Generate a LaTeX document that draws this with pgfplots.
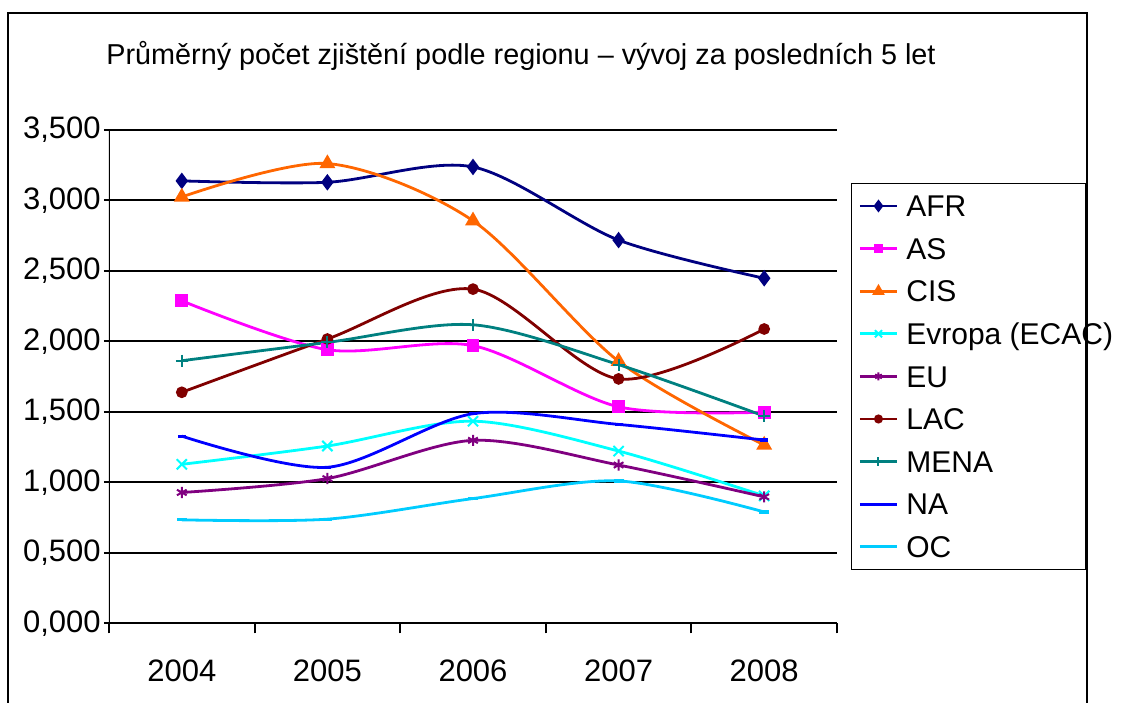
\documentclass[border=0pt]{standalone}
\usepackage{pgfplots}
\pgfplotsset{compat=1.18}
\usepackage{fontspec}
\setmainfont{Liberation Sans}

\definecolor{cAFR}{RGB}{0,0,128}
\definecolor{cAS}{RGB}{255,0,255}
\definecolor{cCIS}{RGB}{255,102,0}
\definecolor{cEVR}{RGB}{0,255,255}
\definecolor{cEU}{RGB}{128,0,128}
\definecolor{cLAC}{RGB}{128,0,0}
\definecolor{cMENA}{RGB}{0,128,128}
\definecolor{cNA}{RGB}{0,0,255}
\definecolor{cOC}{RGB}{0,204,255}

\newcommand{\lent}[1]{\makebox[86pt][l]{#1}}

\begin{document}
\begin{tikzpicture}
\useasboundingbox (0pt,0pt) rectangle (562pt,351pt);
% outer chart frame
\draw[line width=1pt] (4pt,-5pt) -- (4pt,344.5pt) -- (543.5pt,344.5pt) -- (543.5pt,-5pt);
\node[anchor=base, inner sep=0pt, font=\fontsize{14.4}{16}\selectfont] at (260.5pt,318.5pt)
  {Průměrný počet zjištění podle regionu – vývoj za posledních 5 let};

\begin{axis}[
  at={(54.5pt,39.35pt)}, anchor=south west,
  scale only axis, width=364pt, height=246.65pt,
  xmin=0.5, xmax=5.5, ymin=0, ymax=3.5,
  axis line style={draw=none},
  xtick pos=bottom, ytick pos=left,
  xtick={0.5,1.5,...,5.5},
  xticklabels={2004,2005,2006,2007,2008},
  x tick label as interval,
  ytick={0,0.5,...,3.5},
  ymajorgrids,
  grid style={black, line width=1pt},
  tick align=outside,
  major tick length=5pt,
  tick style={black, line width=1pt},
  ytick style={/pgfplots/major tick length=2.5pt},
  yticklabel style={font=\fontsize{15.5}{17}\selectfont, inner sep=0pt, xshift=1pt,
    /pgf/number format/.cd, fixed, fixed zerofill, precision=3, use comma, assume math mode=true},
  xticklabel style={font=\fontsize{15.5}{17}\selectfont, inner sep=0pt, anchor=north, yshift=-13pt},
  every axis plot/.append style={line width=1.4pt, smooth},
  legend image code/.code={\draw[mark repeat=2, mark phase=2, every mark/.append style={scale=0.7}]
    plot coordinates {(0pt,0pt) (9.25pt,0pt) (18.5pt,0pt)};},
  legend style={at={(axis description cs:1.0192,0.8926)}, anchor=north west,
    draw=black, line width=0.6pt, fill=white,
    inner xsep=3.5pt, inner ysep=5.8pt, row sep=10.5pt, column sep=4pt,
    font=\fontsize{15}{17}\selectfont,
    nodes={inner sep=0pt, text height=10.8pt, text depth=0pt},
    cells={anchor=west}},
]
% left and bottom axis lines
\draw[black, line width=1pt] (rel axis cs:0,1) -- (rel axis cs:0,0) -- (rel axis cs:1,0);
\addplot[cAFR, mark=diamond*, mark size=3pt, mark options={solid, fill=cAFR}]
  coordinates {(1,3.139) (2,3.129) (3,3.238) (4,2.719) (5,2.448)};
\addlegendentry{\lent{AFR}}
\addplot[cAS, mark=square*, mark size=2.5pt, mark options={solid, fill=cAS}]
  coordinates {(1,2.288) (2,1.941) (3,1.970) (4,1.536) (5,1.498)};
\addlegendentry{\lent{AS}}
\addplot[cCIS, mark=triangle*, mark size=3.2pt, mark options={solid, fill=cCIS}]
  coordinates {(1,3.025) (2,3.262) (3,2.856) (4,1.859) (5,1.265)};
\addlegendentry{\lent{CIS}}
\addplot[cEVR, mark=x, mark size=3.6pt, mark options={solid, line width=1pt}]
  coordinates {(1,1.128) (2,1.258) (3,1.434) (4,1.222) (5,0.904)};
\addlegendentry{\lent{Evropa (ECAC)}}
\addplot[cEU, mark=asterisk, mark size=2.8pt, mark options={solid, line width=1pt}]
  coordinates {(1,0.928) (2,1.027) (3,1.298) (4,1.123) (5,0.897)};
\addlegendentry{\lent{EU}}
\addplot[cLAC, mark=*, mark size=2.2pt, mark options={solid, fill=cLAC}]
  coordinates {(1,1.639) (2,2.017) (3,2.371) (4,1.734) (5,2.088)};
\addlegendentry{\lent{LAC}}
\addplot[cMENA, mark=+, mark size=3pt, mark options={solid, line width=1pt}]
  coordinates {(1,1.863) (2,1.993) (3,2.118) (4,1.835) (5,1.470)};
\addlegendentry{\lent{MENA}}
\addplot[cNA, mark=-, mark size=2pt, mark options={solid, line width=1.6pt}]
  coordinates {(1,1.328) (2,1.107) (3,1.487) (4,1.411) (5,1.300)};
\addlegendentry{\lent{NA}}
\addplot[cOC, mark=-, mark size=2.5pt, mark options={solid, line width=1.6pt}]
  coordinates {(1,0.734) (2,0.739) (3,0.885) (4,1.010) (5,0.790)};
\addlegendentry{\lent{OC}}
\end{axis}
\end{tikzpicture}
\end{document}
